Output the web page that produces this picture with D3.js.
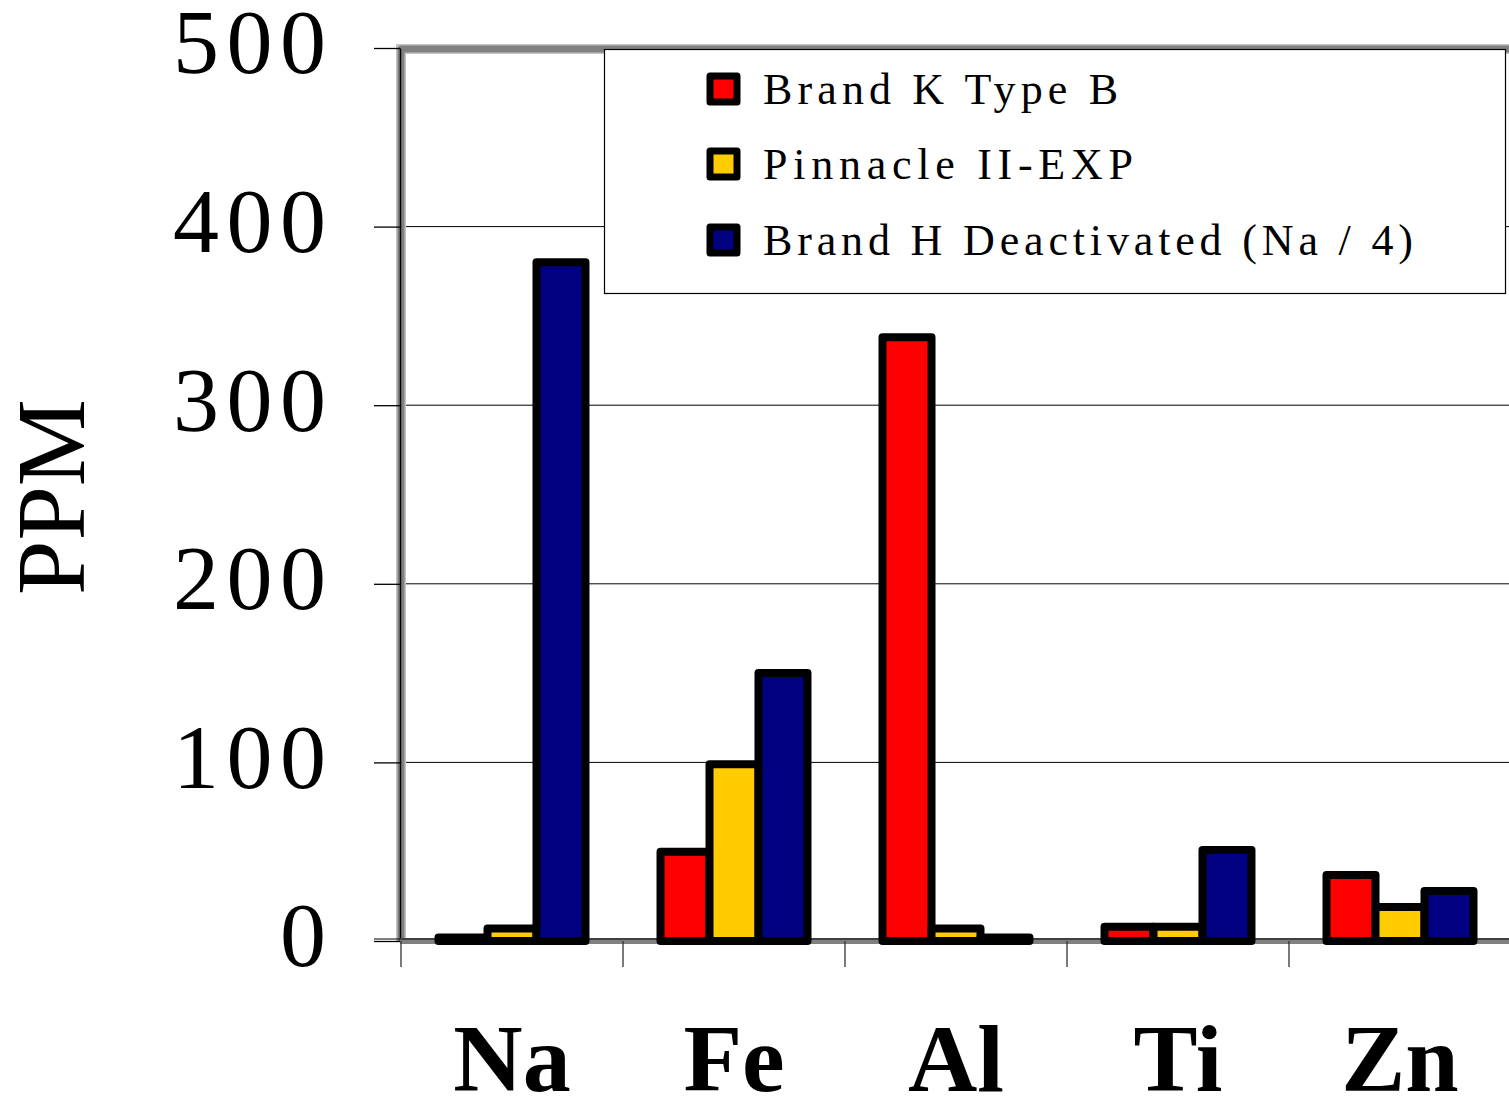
<!DOCTYPE html>
<html lang="en">
  <head>
    <meta charset="UTF-8" />
    <title>PPM by element</title>
    <script src="https://cdn.jsdelivr.net/npm/d3@7"></script>
    <style>
      body { margin: 0; background: #fff; }
      svg { display: block; }
      text { font-family: 'Liberation Serif', 'Times New Roman', serif; }
    </style>
  </head>
  <body>
    <div id="chart"></div>
    <script>
      // data
      const elements = ['Na', 'Fe', 'Al', 'Ti', 'Zn'];
      const seriesNames = ['Brand K Type B', 'Pinnacle II-EXP', 'Brand H Deactivated (Na / 4)'];
      const brandK = [2, 50, 338, 8, 37];
      const pinnacle = [7, 99, 7, 8, 19];
      const brandH = [380, 150, 2, 51, 28];
      const yTicks = [0, 100, 200, 300, 400, 500];
      const colors = ['#ff0000', '#ffcc00', '#000080'];

      const W = 1509, H = 1096;
      const plotLeft = 401, plotRight = 1511, plotTop = 48, plotBottom = 941;

      const svg = d3.select('#chart').append('svg')
        .attr('width', W).attr('height', H);

      const y = d3.scaleLinear().domain([0, 500]).range([plotBottom, plotTop]);
      const x = d3.scaleBand().domain(elements).range([plotLeft, plotRight]);
      const groupW = x.bandwidth() * 0.662;
      const xs = d3.scaleBand().domain(d3.range(3))
        .range([(x.bandwidth() - groupW) / 2, (x.bandwidth() + groupW) / 2]);

      // gridlines
      svg.append('g').selectAll('line')
        .data(yTicks.filter(d => d > 0 && d < 500))
        .join('line')
        .attr('x1', plotLeft).attr('x2', W)
        .attr('y1', d => y(d)).attr('y2', d => y(d))
        .attr('stroke', '#000').attr('stroke-width', 1);

      // frame (grey border top + left)
      const framePath = `M${plotLeft},${plotBottom} L${plotLeft},${plotTop + 1} L${W + 5},${plotTop + 1}`;
      svg.append('path')
        .attr('d', framePath)
        .attr('fill', 'none').attr('stroke', '#c4c4c4').attr('stroke-width', 10);
      svg.append('path')
        .attr('d', framePath)
        .attr('fill', 'none').attr('stroke', '#808080').attr('stroke-width', 7)
        .attr('stroke-linejoin', 'round');

      // legend
      const legend = svg.append('g');
      legend.append('rect')
        .attr('x', 604.5).attr('y', 49.5).attr('width', 901).attr('height', 244)
        .attr('fill', '#fff').attr('stroke', '#000').attr('stroke-width', 1.2);
      const rowY = [89, 164, 240];
      const textLen = [355, 370, 650];
      seriesNames.forEach((name, i) => {
        legend.append('rect')
          .attr('x', 710).attr('y', rowY[i] - 13).attr('width', 27).attr('height', 26)
          .attr('fill', colors[i]).attr('stroke', '#000').attr('stroke-width', 7)
          .attr('stroke-linejoin', 'round');
        legend.append('text')
          .attr('x', 763).attr('y', rowY[i] + 15)
          .attr('font-size', 44)
          .attr('textLength', textLen[i]).attr('lengthAdjust', 'spacing')
          .text(name);
      });

      // y axis
      const yAxis = svg.append('g')
        .attr('transform', `translate(${plotLeft - 1},0)`)
        .call(d3.axisLeft(y).tickValues(yTicks).tickSize(26).tickPadding(48).tickSizeOuter(0));
      yAxis.select('.domain').attr('stroke', '#000').attr('stroke-width', 1.5);
      yAxis.selectAll('.tick line').attr('stroke', '#000').attr('stroke-width', 1.3);
      yAxis.selectAll('.tick text')
        .attr('font-family', "'Liberation Serif', serif")
        .attr('font-size', 92).attr('fill', '#000')
        .attr('dy', '0.27em')
        .each(function (d) {
          if (String(d).length === 3) d3.select(this).attr('textLength', 153).attr('lengthAdjust', 'spacing');
        });

      // x baseline (grey thick) and ticks
      svg.append('line')
        .attr('x1', plotLeft - 1).attr('x2', W).attr('y1', plotBottom).attr('y2', plotBottom)
        .attr('stroke', '#808080').attr('stroke-width', 6);
      svg.append('line')
        .attr('x1', 374).attr('x2', W).attr('y1', plotBottom - 2).attr('y2', plotBottom - 2)
        .attr('stroke', '#000').attr('stroke-width', 1);
      svg.append('g').selectAll('line')
        .data(elements)
        .join('line')
        .attr('x1', d => x(d)).attr('x2', d => x(d))
        .attr('y1', plotBottom).attr('y2', plotBottom + 26)
        .attr('stroke', '#333').attr('stroke-width', 1.3);

      const xAxis = svg.append('g')
        .attr('transform', `translate(0,${plotBottom})`)
        .call(d3.axisBottom(x).tickSize(0).tickPadding(82));
      xAxis.select('.domain').remove();
      xAxis.selectAll('.tick text')
        .attr('font-family', "'Liberation Serif', serif")
        .attr('font-size', 96).attr('font-weight', 'bold').attr('fill', '#000');

      // bars
      const seriesVals = [brandK, pinnacle, brandH];
      const bars = svg.append('g');
      seriesVals.forEach((vals, s) => {
        bars.append('g').selectAll('rect')
          .data(elements.map((e, i) => ({ e, v: vals[i] })))
          .join('rect')
          .attr('x', d => x(d.e) + xs(s))
          .attr('width', xs.bandwidth())
          .attr('y', d => y(d.v))
          .attr('height', d => y(0) - y(d.v))
          .attr('fill', colors[s])
          .attr('stroke', '#000').attr('stroke-width', 8)
          .attr('stroke-linejoin', 'round');
      });

      // y title
      svg.append('text')
        .attr('transform', 'translate(84,497) rotate(-90)')
        .attr('text-anchor', 'middle')
        .attr('font-size', 98)
        .attr('textLength', 196).attr('lengthAdjust', 'spacing')
        .text('PPM');
    </script>
  </body>
</html>
